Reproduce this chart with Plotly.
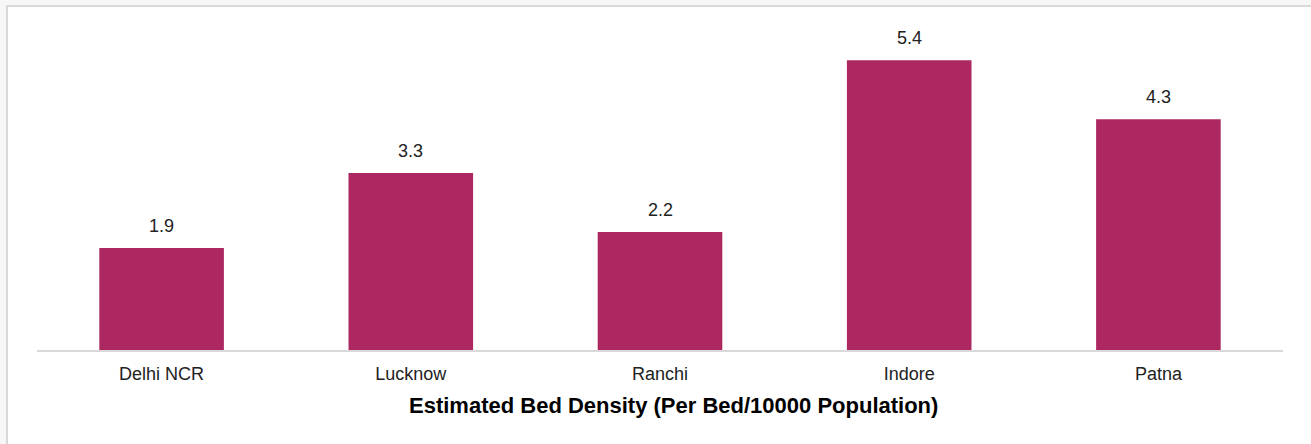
import plotly.graph_objects as go

cities = ["Delhi NCR", "Lucknow", "Ranchi", "Indore", "Patna"]
bed_density = [1.9, 3.3, 2.2, 5.4, 4.3]
value_labels = ["1.9", "3.3", "2.2", "5.4", "4.3"]
chart_title = "Estimated Bed Density (Per Bed/10000 Population)"

bar_color = "#AD2860"
font_family = "Liberation Sans, Arial, sans-serif"

# plot area in pixels
W, H = 1311, 444
L, R, T, B = 37, 28, 28, 94
plot_w, plot_h = W - L - R, H - T - B

fig = go.Figure(
    go.Bar(
        x=cities,
        y=bed_density,
        marker=dict(color=bar_color, line=dict(width=0)),
        width=0.5,
        hoverinfo="x+y",
    )
)

# value labels above each bar
for city, val, lab in zip(cities, bed_density, value_labels):
    fig.add_annotation(
        x=city, y=val, text=lab, showarrow=False,
        xanchor="center", yanchor="bottom", yshift=10,
        font=dict(family=font_family, size=18, color="#222222"),
    )

# axis caption under the category labels
fig.add_annotation(
    xref="paper", yref="paper",
    x=(673 - L) / plot_w, y=-(405 - (H - B)) / plot_h,
    xanchor="center", yanchor="middle", showarrow=False,
    text="<b>" + chart_title + "</b>",
    font=dict(family=font_family, size=22, color="#000000"),
)

# white card with a light grey frame on the top and left edges
fig.add_shape(
    type="rect", xref="paper", yref="paper",
    x0=(7 - L) / plot_w, x1=1.05, y0=-0.35, y1=((H - B) - 6) / plot_h,
    fillcolor="white", line=dict(color="#D9D9D9", width=2), layer="below",
)

fig.update_layout(
    width=W, height=H,
    margin=dict(l=L, r=R, t=T, b=B),
    paper_bgcolor="#F7F7F7",
    plot_bgcolor="rgba(0,0,0,0)",
    showlegend=False,
    bargap=0.5,
    font=dict(family=font_family, color="#222222"),
    xaxis=dict(
        showgrid=False, zeroline=False,
        showline=True, linecolor="#D9D9D9", linewidth=2,
        ticks="outside", ticklen=6, tickcolor="rgba(0,0,0,0)",
        tickfont=dict(size=18, color="#222222"),
    ),
    yaxis=dict(
        range=[0, 6], visible=False, showgrid=False, zeroline=False,
    ),
)

fig.write_html("out.html")
